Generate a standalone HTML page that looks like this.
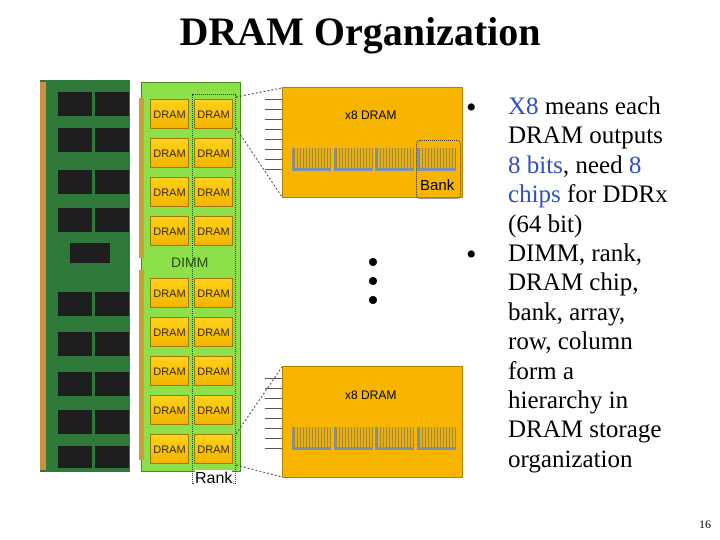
<!DOCTYPE html>
<html><head><style>
body{margin:0;width:720px;height:540px;background:#fff;position:relative;overflow:hidden;font-family:"Liberation Serif",serif}
.a{position:absolute}
.d{position:absolute;width:39px;height:30px;background:linear-gradient(#ffd21a,#f3b400);border:1px solid #a07800;box-sizing:border-box;font:11px "Liberation Sans",sans-serif;color:#3a2a00;text-align:center;line-height:30px}
.box{position:absolute;left:282px;width:181px;background:#f7b500;border:1px solid #b08000;box-sizing:border-box}
.bk{position:absolute;width:37px;height:20px;background:repeating-linear-gradient(90deg,#b08a20 0 1px,#e0b020 1px 3px);border-bottom:3px solid #7a90b0;border-left:2px solid #7a90b0}
.pin{position:absolute;left:265px;width:17px;height:1px;background:#555}
.t{position:absolute;left:508px;font-size:25px;line-height:29.4px;color:#000;white-space:nowrap}
.b{position:absolute;left:466px;font-size:30px;line-height:29.4px}
</style></head><body>
<div class="a" style="left:0;width:720px;top:8px;text-align:center;font-weight:bold;font-size:40px">DRAM Organization</div>
<div class="a" style="left:40px;top:80px;width:90px;height:392px;background:#2f7a3a"></div>
<div class="a" style="left:40px;top:82px;width:6px;height:388px;background:#c89040"></div>
<svg class="a" style="left:40px;top:80px" width="90" height="392">
<g fill="#1e1e1e">
<rect x="18" y="12" width="34" height="24"/><rect x="55" y="12" width="34" height="24"/>
<rect x="18" y="48" width="34" height="24"/><rect x="55" y="48" width="34" height="24"/>
<rect x="18" y="90" width="34" height="24"/><rect x="55" y="90" width="34" height="24"/>
<rect x="18" y="128" width="34" height="24"/><rect x="55" y="128" width="34" height="24"/>
<rect x="30" y="163" width="40" height="20"/>
<rect x="18" y="212" width="34" height="24"/><rect x="55" y="212" width="34" height="24"/>
<rect x="18" y="252" width="34" height="24"/><rect x="55" y="252" width="34" height="24"/>
<rect x="18" y="292" width="34" height="24"/><rect x="55" y="292" width="34" height="24"/>
<rect x="18" y="330" width="34" height="24"/><rect x="55" y="330" width="34" height="24"/>
<rect x="18" y="366" width="34" height="22"/><rect x="55" y="366" width="34" height="22"/>
</g></svg>
<div class="a" style="left:141px;top:82px;width:100px;height:390px;background:#8ee04a;border:1px solid #4a8a20;box-sizing:border-box"></div>
<div class="a" style="left:139px;top:98px;width:5px;height:160px;background:#c8a030"></div>
<div class="a" style="left:139px;top:270px;width:5px;height:190px;background:#c8a030"></div>
<div class="a" style="left:171px;top:254px;font:14px 'Liberation Sans',sans-serif;color:#2a4a10">DIMM</div>
<div class="a" style="left:192px;top:94px;width:42px;height:388px;border:1px dotted #333"></div>
<div class="d" style="left:150px;top:99px">DRAM</div><div class="d" style="left:194px;top:99px">DRAM</div>
<div class="d" style="left:150px;top:138px">DRAM</div><div class="d" style="left:194px;top:138px">DRAM</div>
<div class="d" style="left:150px;top:177px">DRAM</div><div class="d" style="left:194px;top:177px">DRAM</div>
<div class="d" style="left:150px;top:216px">DRAM</div><div class="d" style="left:194px;top:216px">DRAM</div>
<div class="d" style="left:150px;top:278px">DRAM</div><div class="d" style="left:194px;top:278px">DRAM</div>
<div class="d" style="left:150px;top:317px">DRAM</div><div class="d" style="left:194px;top:317px">DRAM</div>
<div class="d" style="left:150px;top:356px">DRAM</div><div class="d" style="left:194px;top:356px">DRAM</div>
<div class="d" style="left:150px;top:395px">DRAM</div><div class="d" style="left:194px;top:395px">DRAM</div>
<div class="d" style="left:150px;top:434px">DRAM</div><div class="d" style="left:194px;top:434px">DRAM</div>
<div class="a" style="left:195px;top:470px;font:16px 'Liberation Sans',sans-serif;background:#fff">Rank</div>
<svg class="a" style="left:0;top:0" width="720" height="540"><g stroke="#444" stroke-dasharray="2,2" fill="none">
<line x1="236" y1="97" x2="282" y2="88"/><line x1="236" y1="128" x2="282" y2="197"/>
<line x1="236" y1="434" x2="282" y2="367"/><line x1="236" y1="465" x2="282" y2="477"/></g>
<circle cx="373" cy="262" r="4"/><circle cx="373" cy="281" r="4"/><circle cx="373" cy="300" r="4"/></svg>
<div class="box" style="top:87px;height:111px"></div>
<div class="a" style="left:345px;top:108px;font:12px 'Liberation Sans',sans-serif">x8 DRAM</div>
<div class="box" style="top:366px;height:112px"></div>
<div class="a" style="left:345px;top:388px;font:12px 'Liberation Sans',sans-serif">x8 DRAM</div>
<div class="bk" style="left:292px;top:148px"></div><div class="bk" style="left:334px;top:148px"></div><div class="bk" style="left:375px;top:148px"></div><div class="bk" style="left:417px;top:148px"></div>
<div class="bk" style="left:292px;top:427px"></div><div class="bk" style="left:334px;top:427px"></div><div class="bk" style="left:375px;top:427px"></div><div class="bk" style="left:417px;top:427px"></div>
<div class="a" style="left:416px;top:140px;width:43px;height:57px;border:1px dotted #333;border-radius:4px"></div>
<div class="a" style="left:420px;top:177px;font:15px 'Liberation Sans',sans-serif">Bank</div>
<div class="pin" style="top:99px"></div><div class="pin" style="top:109px"></div><div class="pin" style="top:119px"></div><div class="pin" style="top:129px"></div><div class="pin" style="top:139px"></div><div class="pin" style="top:149px"></div><div class="pin" style="top:159px"></div><div class="pin" style="top:169px"></div>
<div class="pin" style="top:378px"></div><div class="pin" style="top:388px"></div><div class="pin" style="top:398px"></div><div class="pin" style="top:408px"></div><div class="pin" style="top:418px"></div><div class="pin" style="top:428px"></div><div class="pin" style="top:438px"></div><div class="pin" style="top:448px"></div>
<div class="b" style="top:93px">•</div>
<div class="t" style="top:92px"><span style="color:#3050c0">X8</span> means each<br>DRAM outputs<br><span style="color:#3050c0">8 bits</span>, need <span style="color:#3050c0">8<br>chips</span> for DDRx<br>(64 bit)</div>
<div class="b" style="top:240px">•</div>
<div class="t" style="top:239px">DIMM, rank,<br>DRAM chip,<br>bank, array,<br>row, column<br>form a<br>hierarchy in<br>DRAM storage<br>organization</div>
<div class="a" style="left:699px;top:517px;font-size:12px">16</div>
</body></html>
